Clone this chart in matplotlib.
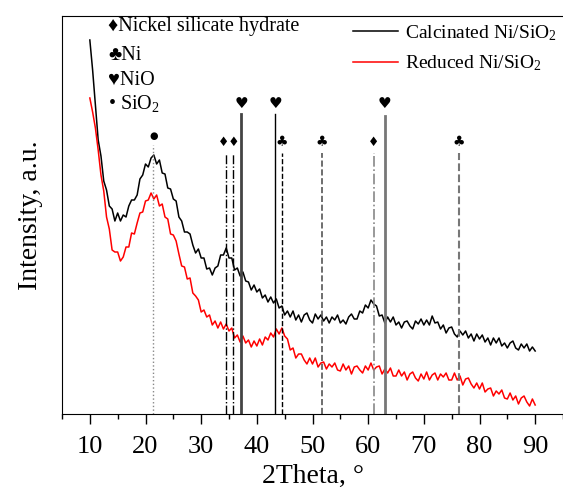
import numpy as np
import matplotlib
matplotlib.use("Agg")
import matplotlib.pyplot as plt

plt.rcParams['font.family'] = ['Liberation Serif', 'DejaVu Sans']
plt.rcParams['mathtext.fontset'] = 'custom'
plt.rcParams['mathtext.rm'] = 'Liberation Serif'
plt.rcParams['mathtext.it'] = 'Liberation Serif:italic'

# 2Theta grid (degrees), 0.5 deg steps from 10 to 90
two_theta = np.arange(10.0, 90.01, 0.5)

calcinated = [
    374, 344, 309, 274, 258, 233, 224, 208, 205, 193,
    201, 193, 199, 197, 208, 214, 214, 219, 235, 239,
    250, 247, 256, 259, 250, 254, 241, 240, 226, 225,
    215, 213, 197, 193, 182, 182, 180, 169, 161, 165,
    156, 156, 145, 146, 139, 146, 148, 159, 159, 166,
    156, 156, 144, 146, 138, 142, 133, 132, 124, 129,
    122, 125, 116, 119, 112, 117, 111, 115, 106, 108,
    99, 103, 97, 103, 94, 99, 92, 99, 101, 94,
    91, 100, 95, 99, 93, 97, 91, 97, 94, 99,
    91, 94, 90, 97, 100, 95, 95, 103, 101, 109,
    106, 114, 110, 108, 98, 99, 91, 97, 92, 97,
    89, 92, 86, 92, 93, 88, 85, 93, 90, 95,
    89, 94, 89, 98, 91, 92, 85, 89, 81, 86,
    87, 80, 77, 83, 79, 83, 76, 80, 73, 80,
    75, 79, 72, 76, 69, 76, 71, 76, 68, 71,
    66, 71, 73, 66, 64, 70, 66, 70, 63, 67,
    63,
]

reduced = [
    316, 302, 286, 264, 239, 223, 197, 185, 164, 162,
    162, 153, 157, 167, 167, 181, 180, 191, 201, 202,
    213, 214, 221, 215, 219, 208, 210, 197, 195, 180,
    179, 173, 160, 148, 147, 135, 136, 121, 118, 114,
    102, 104, 97, 99, 89, 93, 86, 92, 85, 90,
    83, 86, 76, 79, 72, 78, 71, 74, 67, 73,
    68, 75, 69, 77, 74, 81, 77, 85, 80, 86,
    78, 75, 64, 66, 56, 60, 60, 54, 50, 56,
    50, 56, 47, 51, 52, 45, 50, 47, 51, 44,
    43, 50, 44, 48, 40, 47, 48, 44, 41, 48,
    44, 51, 44, 47, 48, 40, 45, 41, 46, 38,
    38, 44, 38, 42, 34, 40, 42, 36, 33, 40,
    35, 42, 34, 39, 41, 34, 40, 37, 41, 34,
    34, 41, 34, 38, 29, 35, 36, 30, 26, 31,
    25, 31, 22, 25, 26, 18, 23, 20, 24, 16,
    15, 21, 14, 18, 10, 16, 18, 12, 8, 15,
    9,
]

# Reference peak positions (2Theta) and their symbols
ref_pos = [21.4, 34.4, 35.7, 37.2, 43.3, 44.5, 51.7, 61.0, 63.0, 76.3]
ref_sym = ['\u25cf', '\u2666', '\u2666', '\u2665', '\u2665', '\u2663', '\u2663', '\u2666', '\u2665', '\u2663']
ref_top = [269, 261, 261, 300, 300, 261, 261, 261, 298, 261]
ref_mark = [278, 272, 272, 311, 311, 272, 272, 272, 311, 272]
ref_style = [':', '-.', '-.', '-', '-', '--', '--', '-.', '-', '--']
ref_color = ['#888888', '#000000', '#000000', '#444444', '#000000', '#000000', '#555555', '#888888', '#777777', '#777777']
ref_lw = [1.0, 1.0, 1.0, 2.0, 1.0, 1.0, 1.2, 1.2, 2.0, 1.5]

phase_labels = ['\u2666Nickel silicate hydrate', '\u2663Ni', '\u2665NiO', '\u2022 SiO$_2$']
series_labels = ['Calcinated Ni/SiO$_2$', 'Reduced Ni/SiO$_2$']

fig = plt.figure(figsize=(5.63, 4.88), dpi=100)
ax = fig.add_axes([62/563, 74/488, 501/563, 398/488])

ax.plot(two_theta, calcinated, color='black', lw=1.1, label=series_labels[0])
ax.plot(two_theta, reduced, color='red', lw=1.1, label=series_labels[1])

for p, t, ls, c, lw in zip(ref_pos, ref_top, ref_style, ref_color, ref_lw):
    ax.plot([p, p], [0, t], ls=ls, color=c, lw=lw)

# symbols; adjacent identical symbols that nearly touch are drawn as one label
sym_size = {'\u25cf': 7, '\u2666': 9, '\u2665': 11, '\u2663': 10}
groups = []
for p, s, m in zip(ref_pos, ref_sym, ref_mark):
    if groups and groups[-1][1] == s and p - groups[-1][0][-1] < 2.0:
        groups[-1][0].append(p)
    else:
        groups.append(([p], s, m))
for ps, s, m in groups:
    ax.text(np.mean(ps), m, s * len(ps), ha='center', va='center',
            fontsize=sym_size[s], color='black', family=['DejaVu Sans'])

ax.set_xlim(5, 95)
ax.set_ylim(0, 398)
ax.set_xticks(range(10, 91, 10))
ax.set_xticks(range(5, 96, 10), minor=True)
ax.set_yticks([])
ax.tick_params(axis='x', which='major', direction='out', length=7, width=1, labelsize=19, pad=9)
ax.tick_params(axis='x', which='minor', direction='out', length=3.5, width=1)
ax.spines['right'].set_visible(False)

ax.set_xlabel('2Theta, \u00b0', fontsize=20)
ax.xaxis.set_label_coords(0.5, -0.125)
ax.set_ylabel('Intensity, a.u.', fontsize=20)
ax.yaxis.set_label_coords(-0.038, 0.5)

# phase key (top-left)
key_y = [27, 55, 80, 104]
for lab, yy in zip(phase_labels, key_y):
    fig.text(108/563, 1 - yy/488, lab, fontsize=14.5, va='center', ha='left')

leg = ax.legend(loc='upper left', bbox_to_anchor=(353/563, 1 - 23/488),
                bbox_transform=fig.transFigure, frameon=False, fontsize=14,
                handlelength=2.3, handletextpad=0.35, borderpad=0, borderaxespad=0,
                labelspacing=0.55)

fig.savefig('out.png', dpi=100)
